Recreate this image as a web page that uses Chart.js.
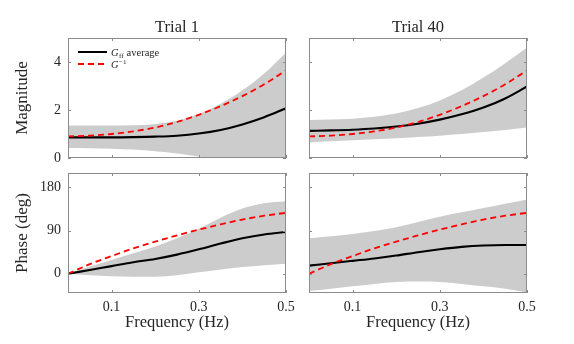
<!DOCTYPE html>
<html><head><meta charset="utf-8">
<script src="https://cdn.jsdelivr.net/npm/chart.js@4"></script>
<style>
html,body{margin:0;padding:0;background:#fff;width:574px;height:344px;overflow:hidden}
canvas{position:absolute;left:0;top:0}
</style></head><body>
<canvas id="c1" width="574" height="344"></canvas>
<canvas id="c2" width="574" height="344"></canvas>
<canvas id="c3" width="574" height="344"></canvas>
<canvas id="c4" width="574" height="344"></canvas>
<script>
// ---- data ----
const freq = [0, 0.05, 0.1, 0.15, 0.2, 0.25, 0.3, 0.35, 0.4, 0.45, 0.5];
const xTicks = [0.1, 0.3, 0.5];
const magTicks = [0, 2, 4];
const phaseTicks = [0, 90, 180];
const trialTitles = ['Trial 1', 'Trial 40'];

const invMag   = [0.9, 0.93, 1.0, 1.11, 1.27, 1.5, 1.8, 2.16, 2.58, 3.07, 3.65];
const invPhase = [0, 20, 37, 53, 67, 80, 92, 103, 113, 121, 127];

const t1MagAvg   = [0.86, 0.86, 0.86, 0.87, 0.89, 0.93, 1.02, 1.17, 1.4, 1.7, 2.07];
const t1MagUpper = [1.35, 1.35, 1.35, 1.36, 1.42, 1.55, 1.83, 2.26, 2.82, 3.52, 4.4];
const t1MagLower = [0.42, 0.41, 0.39, 0.35, 0.28, 0.19, 0.06, -0.1, -0.3, -0.5, -0.7];

const t40MagAvg   = [1.13, 1.15, 1.18, 1.23, 1.31, 1.43, 1.6, 1.82, 2.1, 2.48, 2.98];
const t40MagUpper = [1.58, 1.6, 1.64, 1.72, 1.85, 2.08, 2.4, 2.82, 3.35, 3.95, 4.6];
const t40MagLower = [0.65, 0.7, 0.74, 0.78, 0.82, 0.87, 0.93, 1.0, 1.08, 1.17, 1.27];

const t1PhaseAvg   = [0, 8, 16, 24, 31, 40, 51, 63, 74, 82, 87];
const t1PhaseUpper = [0, 15, 29, 43, 57, 74, 94, 117, 136, 147, 151];
const t1PhaseLower = [0, -3, -5, -6, -6, -3, 3, 9, 14, 18, 21];

const t40PhaseAvg   = [17, 22, 27, 32, 38, 45, 51, 56, 59, 60, 60];
const t40PhaseUpper = [74, 78, 83, 89, 97, 108, 119, 128, 137, 146, 155];
const t40PhaseLower = [-36, -31, -26, -21, -17, -16, -17, -21, -26, -31, -39];

// ---- style ----
const W = 574, H = 344;
const SERIF = '"Liberation Serif", "Times New Roman", serif';
const TXT = '#262626';
const AXC = '#8c8c8c';
const BAND = '#cccccc';

const pts = arr => freq.map((f, i) => ({x: f, y: arr[i]}));

const panelPlugin = {
  id: 'panel',
  afterDraw(chart, args, o) {
    const {ctx, chartArea: a, scales: {x, y}} = chart;
    ctx.save();
    ctx.strokeStyle = AXC; ctx.lineWidth = 1;
    ctx.beginPath();
    const L = 3;
    x.ticks.forEach(t => {
      const px = Math.round(x.getPixelForValue(t.value)) + 0.5;
      ctx.moveTo(px, a.top); ctx.lineTo(px, a.top + L);
      ctx.moveTo(px, a.bottom); ctx.lineTo(px, a.bottom - L);
    });
    y.ticks.forEach(t => {
      const py = Math.round(y.getPixelForValue(t.value)) + 0.5;
      ctx.moveTo(a.left, py); ctx.lineTo(a.left + L, py);
      ctx.moveTo(a.right, py); ctx.lineTo(a.right - L, py);
    });
    ctx.stroke();
    ctx.strokeRect(a.left + 0.5, a.top + 0.5, a.right - a.left - 1, a.bottom - a.top - 1);
    ctx.fillStyle = TXT;
    if (o.title) {
      ctx.font = '16.5px ' + SERIF;
      ctx.textAlign = 'center'; ctx.textBaseline = 'alphabetic';
      ctx.fillText(o.title, (a.left + a.right) / 2, a.top - 6);
    }
    if (o.legend) {
      const x0 = a.left + 10, x1 = a.left + 39, tx = a.left + 43;
      const y1 = a.top + 14, y2 = a.top + 26;
      ctx.lineWidth = 2; ctx.strokeStyle = '#000';
      ctx.beginPath(); ctx.moveTo(x0, y1); ctx.lineTo(x1, y1); ctx.stroke();
      ctx.strokeStyle = '#ff0000'; ctx.lineWidth = 1.8; ctx.setLineDash([6, 4]);
      ctx.beginPath(); ctx.moveTo(x0, y2); ctx.lineTo(x1, y2); ctx.stroke();
      ctx.setLineDash([]);
      ctx.textAlign = 'left'; ctx.textBaseline = 'alphabetic';
      ctx.fillStyle = TXT;
      ctx.font = 'italic 10.5px ' + SERIF;
      ctx.fillText('G', tx, y1 + 3.5);
      const w = ctx.measureText('G').width;
      ctx.font = '7px ' + SERIF;
      ctx.fillText('ff', tx + w + 0.5, y1 + 5.5);
      const w2 = ctx.measureText('ff').width;
      ctx.font = '10.5px ' + SERIF;
      ctx.fillText('average', tx + w + w2 + 3.5, y1 + 3.5);
      ctx.font = 'italic 10.5px ' + SERIF;
      ctx.fillText('G', tx, y2 + 3.5);
      ctx.font = '7px ' + SERIF;
      ctx.fillText('\u22121', tx + w + 0.5, y2 - 0.5);
    }
    ctx.restore();
  }
};

function makePanel(id, box, cfg) {
  const yAxisW = box.left;
  const xAxisH = H - box.bottom;
  new Chart(document.getElementById(id), {
    type: 'line',
    data: {
      datasets: [
        {data: pts(cfg.inv), borderColor: '#ff0000', borderWidth: 1.8, borderDash: [6, 4],
         pointRadius: 0, cubicInterpolationMode: 'monotone', fill: false},
        {data: pts(cfg.avg), borderColor: '#000000', borderWidth: 2.1,
         pointRadius: 0, cubicInterpolationMode: 'monotone', fill: false},
        {data: pts(cfg.upper), borderWidth: 0, borderColor: 'rgba(0,0,0,0)', backgroundColor: BAND,
         pointRadius: 0, cubicInterpolationMode: 'monotone', fill: '+1'},
        {data: pts(cfg.lower), borderWidth: 0, borderColor: 'rgba(0,0,0,0)', backgroundColor: BAND,
         pointRadius: 0, cubicInterpolationMode: 'monotone', fill: false}
      ]
    },
    options: {
      responsive: false, animation: false, events: [],
      layout: {autoPadding: false, padding: {left: 0, top: box.top, right: W - box.right, bottom: 0}},
      plugins: {legend: {display: false}, tooltip: {enabled: false},
        panel: {title: cfg.title, legend: cfg.legend}},
      scales: {
        x: {type: 'linear', min: 0, max: 0.5,
          grid: {display: false, drawTicks: false}, border: {display: false},
          afterBuildTicks: s => { s.ticks = xTicks.map(v => ({value: v})); },
          afterFit: s => { s.height = xAxisH; },
          ticks: {display: cfg.xLabels, padding: 6, color: TXT, font: {family: SERIF, size: 14},
            maxRotation: 0, autoSkip: false, callback: v => String(v)},
          title: {display: cfg.xLabels, text: 'Frequency (Hz)', color: TXT,
            font: {family: SERIF, size: 16.5}, padding: {top: 0, bottom: 11}}
        },
        y: {type: 'linear', min: cfg.ymin, max: cfg.ymax,
          grid: {display: false, drawTicks: false}, border: {display: false},
          afterBuildTicks: s => { s.ticks = cfg.yTicks.map(v => ({value: v})); },
          afterFit: s => { s.width = yAxisW; },
          ticks: {display: cfg.yLabels, padding: 7, color: TXT, font: {family: SERIF, size: 14},
            autoSkip: false, callback: v => String(v)},
          title: {display: cfg.yLabels, text: cfg.yTitle, color: TXT,
            font: {family: SERIF, size: 17}, padding: {top: 12, bottom: 0}}
        }
      }
    },
    plugins: [panelPlugin]
  });
}

makePanel('c1', {left: 68, right: 286, top: 38, bottom: 158},
  {inv: invMag, avg: t1MagAvg, upper: t1MagUpper, lower: t1MagLower, ymin: 0, ymax: 5,
   yTicks: magTicks, yLabels: true, xLabels: false, yTitle: 'Magnitude', title: trialTitles[0], legend: true});
makePanel('c2', {left: 309, right: 527, top: 38, bottom: 158},
  {inv: invMag, avg: t40MagAvg, upper: t40MagUpper, lower: t40MagLower, ymin: 0, ymax: 5,
   yTicks: magTicks, yLabels: false, xLabels: false, yTitle: 'Magnitude', title: trialTitles[1], legend: false});
makePanel('c3', {left: 68, right: 286, top: 173, bottom: 293},
  {inv: invPhase, avg: t1PhaseAvg, upper: t1PhaseUpper, lower: t1PhaseLower, ymin: -40, ymax: 210,
   yTicks: phaseTicks, yLabels: true, xLabels: true, yTitle: 'Phase (deg)', title: null, legend: false});
makePanel('c4', {left: 309, right: 527, top: 173, bottom: 293},
  {inv: invPhase, avg: t40PhaseAvg, upper: t40PhaseUpper, lower: t40PhaseLower, ymin: -40, ymax: 210,
   yTicks: phaseTicks, yLabels: false, xLabels: true, yTitle: 'Phase (deg)', title: null, legend: false});
</script>
</body></html>
